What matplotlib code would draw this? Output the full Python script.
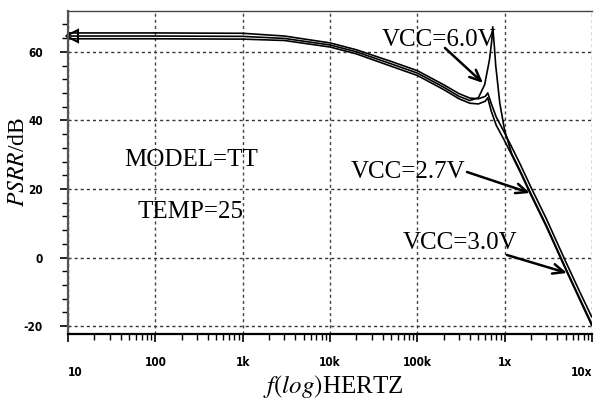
import numpy as np
import matplotlib
matplotlib.use("Agg")
import matplotlib.pyplot as plt
from matplotlib.ticker import FixedLocator, LogLocator, NullFormatter

# ---------------- data ----------------
freq_common = [10, 100, 1e3, 3e3, 1e4, 2e4, 5e4, 1e5, 2e5, 3e5, 4e5, 5e5, 6e5, 6.4e5,
               7e5, 8e5, 1e6, 1.2e6, 1.5e6, 2e6, 3e6, 5e6, 7e6, 1e7]
psrr_27 = [63.8, 63.8, 63.7, 63.3, 61.4, 59.4, 55.8, 53.1, 49.0, 46.3, 45.0, 44.8, 45.6, 46.6,
           42.8, 38.6, 34.0, 30.0, 25.0, 18.2, 9.0, -3.5, -11.5, -20.0]
psrr_30 = [65.5, 65.5, 65.4, 64.6, 62.6, 60.6, 57.2, 54.5, 50.4, 47.8, 46.5, 46.3, 47.0, 48.0,
           45.0, 41.0, 36.3, 32.3, 27.3, 20.5, 11.3, -1.2, -9.2, -17.5]
freq_60 = [10, 100, 1e3, 3e3, 1e4, 2e4, 5e4, 1e5, 2e5, 3e5, 4e5, 5e5, 5.9e5, 6.7e5,
           7.1e5, 7.3e5, 7.6e5, 7.9e5, 8.8e5, 1e6, 1.2e6, 1.5e6, 2e6, 3e6, 5e6, 7e6, 1e7]
psrr_60 = [64.6, 64.6, 64.5, 63.9, 62.0, 60.0, 56.5, 53.8, 49.7, 47.0, 45.8, 46.6, 50.4, 57.7,
           63.0, 67.3, 62.0, 56.0, 45.0, 37.0, 30.4, 25.4, 18.6, 9.4, -3.1, -11.1, -19.5]

y_ticks = [-20, 0, 20, 40, 60]
x_ticks = [10, 100, 1e3, 1e4, 1e5, 1e6, 1e7]
x_ticklabels = ["10", "100", "1k", "10k", "100k", "1x", "10x"]

labels = ["VCC=6.0V", "VCC=2.7V", "VCC=3.0V"]

# ---------------- figure ----------------
W, H = 594, 401
L, R, T, B = 68, 592, 11, 334
fig = plt.figure(figsize=(W/100, H/100), dpi=100)
ax = fig.add_axes([L/W, 1-B/H, (R-L)/W, (B-T)/H])
ax.set_xscale("log")
ax.set_xlim(10, 1e7)
ax.set_ylim(-22.3, 71.9)

def pa(x, y):
    """pixel position in the picture -> axes fraction"""
    return ((x-L)/(R-L), (B-y)/(B-T))

for f, p in [(freq_common, psrr_27), (freq_common, psrr_30), (freq_60, psrr_60)]:
    ax.plot(f, p, color="black", lw=1.2, solid_capstyle="butt")

# marker at the left end
ax.plot([11.2], [64.6], marker="<", color="black", ms=8, mfc="none", mew=1.5, clip_on=False)

# grid
for yv in y_ticks:
    ax.axhline(yv, color="#333333", lw=1.0, ls=(0, (2.2, 2.2)), zorder=0)
for xv in x_ticks:
    ax.axvline(xv, color="#444444", lw=1.0, ls=(0, (2.2, 2.2)), zorder=0)

tickfont = dict(fontsize=8.5, fontweight="bold", family="DejaVu Sans", fontstretch="condensed")
ax.yaxis.set_major_locator(FixedLocator(y_ticks))
ax.yaxis.set_minor_locator(FixedLocator(list(range(-20, 72, 4))))
ax.xaxis.set_major_locator(FixedLocator(x_ticks))
ax.xaxis.set_minor_locator(LogLocator(base=10, subs=np.arange(2, 10), numticks=20))
ax.xaxis.set_minor_formatter(NullFormatter())
ax.set_yticks(y_ticks)
ax.set_yticklabels([str(v) for v in y_ticks], **tickfont)
ax.set_xticks(x_ticks)
ax.set_xticklabels(x_ticklabels, **tickfont)
xt = ax.get_xticklabels()
xt[0].set_y(-0.03)
xt[0].set_ha("left")
xt[-1].set_y(-0.03)
xt[-1].set_ha("right")
ax.tick_params(axis="both", which="major", direction="out", length=6, width=1.2, color="black")
ax.tick_params(axis="both", which="minor", direction="out", length=4, width=1.0, color="black")
ax.tick_params(axis="x", pad=10)
ax.tick_params(axis="y", pad=12)

for s in ["left", "bottom"]:
    ax.spines[s].set_linewidth(1.6)
ax.spines["left"].set_color("#555555")
ax.spines["top"].set_linewidth(1.0)
ax.spines["top"].set_color("#444444")
ax.spines["right"].set_visible(False)

serif = "Liberation Serif"
fs = 18
ax.text(*pa(191, 160), "MODEL=TT", fontsize=fs, family=serif, ha="center", va="center",
        transform=ax.transAxes)
ax.text(*pa(191, 212), "TEMP=25", fontsize=fs, family=serif, ha="center", va="center",
        transform=ax.transAxes)

text_px = [(439, 40), (408, 172), (460, 243)]
tail_px = [(445, 48), (467, 172), (507, 255)]
head_px = [(483, 83), (530, 193), (567, 273)]
for lab, tp, tl, hd in zip(labels, text_px, tail_px, head_px):
    ax.text(*pa(*tp), lab, fontsize=fs, family=serif, ha="center", va="center",
            transform=ax.transAxes)
    ax.annotate("", xy=pa(*hd), xytext=pa(*tl), xycoords="axes fraction",
                textcoords="axes fraction",
                arrowprops=dict(arrowstyle="->,head_length=0.8,head_width=0.35", lw=1.8,
                                color="black", shrinkA=0, shrinkB=0))

fig.text(333/W, 1-386/H, r"$\it{f(log)}$HERTZ", fontsize=fs, family=serif,
         ha="center", va="center", math_fontfamily="stix")
fig.text(19/W, 1-162/H, r"$\it{PSRR}$/dB", fontsize=17, family=serif, rotation=90,
         ha="center", va="center", math_fontfamily="stix")

fig.savefig("out.png", dpi=100)
